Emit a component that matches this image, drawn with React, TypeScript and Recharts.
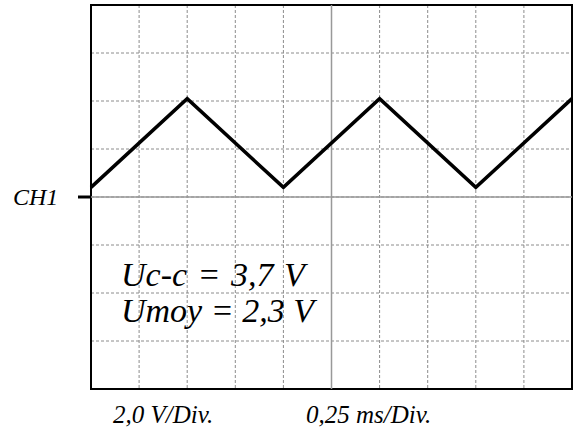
import React from 'react';
import {
  LineChart,
  Line,
  XAxis,
  YAxis,
  CartesianGrid,
  ReferenceLine,
  ReferenceArea,
} from 'recharts';

// oscilloscope trace: time in ms, voltage in V
const times = [0, 0.5, 1.0, 1.5, 2.0, 2.5];
const volts = [0.4, 4.1, 0.4, 4.1, 0.4, 4.1];

const timeDivs = [0, 0.25, 0.5, 0.75, 1.0, 1.25, 1.5, 1.75, 2.0, 2.25, 2.5];
const voltDivs = [-8, -6, -4, -2, 0, 2, 4, 6, 8];

const channelLabel = 'CH1';
const measures = ['Uc-c = 3,7 V', 'Umoy = 2,3 V'];
const voltScale = '2,0 V/Div.';
const timeScale = '0,25 ms/Div.';

const data = times.map((t, i) => ({ t, v: volts[i] }));

const textStyle = (left: number, top: number, size: number, spacing = 0): React.CSSProperties => ({
  position: 'absolute',
  left,
  top,
  fontFamily: 'Liberation Serif',
  fontStyle: 'italic',
  fontSize: size,
  lineHeight: 1,
  wordSpacing: spacing,
  whiteSpace: 'pre',
  color: '#000',
});

const App = () => {
  return (
    <div style={{ position: 'absolute', left: 0, top: 0, width: 575, height: 430, background: '#fff' }}>
      <LineChart
        width={575}
        height={430}
        data={data}
        margin={{ top: 5, right: 3, bottom: 41, left: 11 }}
      >
        <CartesianGrid
          stroke='#8c8c8c'
          strokeDasharray='3 2'
          horizontalValues={voltDivs}
          verticalValues={timeDivs}
        />
        <XAxis dataKey='t' type='number' domain={[0, 2.5]} ticks={timeDivs} hide />
        <YAxis
          type='number'
          domain={[-8, 8]}
          ticks={[0]}
          width={80}
          axisLine={false}
          tickSize={13}
          tickLine={{ stroke: '#000', strokeWidth: 3 }}
          tickFormatter={() => ''}
        />
        <ReferenceLine x={1.25} stroke='#999' strokeWidth={1.5} />
        <ReferenceLine y={0} stroke='#999' strokeWidth={1.5} />
        <Line
          dataKey='v'
          type='linear'
          stroke='#000'
          strokeWidth={3.5}
          dot={false}
          isAnimationActive={false}
        />
        <ReferenceArea x1={0} x2={2.5} y1={-8} y2={8} fill='none' stroke='#000' strokeWidth={2} />
      </LineChart>
      <div style={textStyle(13, 185, 24)}>{channelLabel}</div>
      <div style={textStyle(121, 258, 34, 2)}>{measures[0]}</div>
      <div style={textStyle(121, 294, 34, 0)}>{measures[1]}</div>
      <div style={textStyle(113, 402, 25)}>{voltScale}</div>
      <div style={textStyle(306, 402, 25)}>{timeScale}</div>
    </div>
  );
};

export default App;
